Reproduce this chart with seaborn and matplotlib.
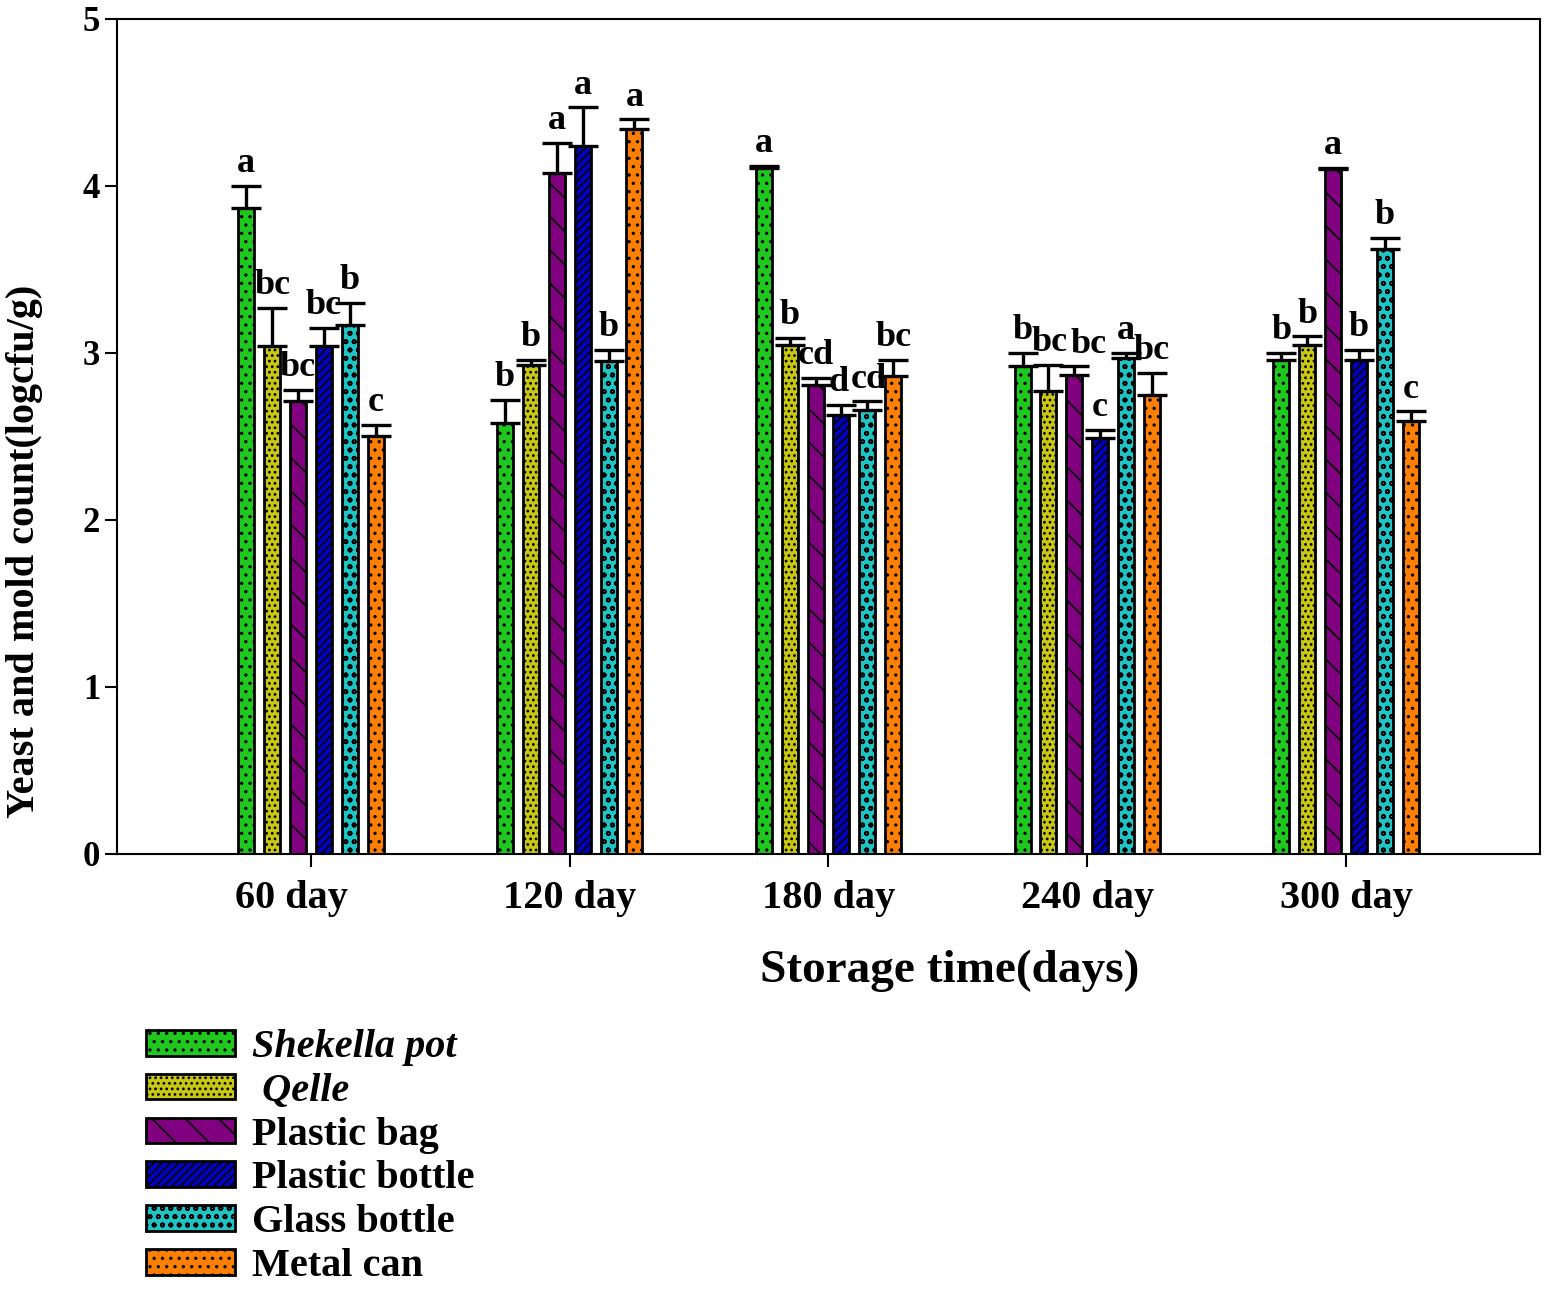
import matplotlib
matplotlib.use("Agg")
import matplotlib.pyplot as plt
import matplotlib.transforms as mtransforms
import seaborn as sns
import pandas as pd
import numpy as np

days = ["60 day", "120 day", "180 day", "240 day", "300 day"]
containers = ["Shekella pot", " Qelle", "Plastic bag", "Plastic bottle", "Glass bottle", "Metal can"]

shekella = [3.87, 2.58, 4.11, 2.92, 2.96]
qelle = [3.04, 2.93, 3.05, 2.77, 3.05]
plastic_bag = [2.71, 4.08, 2.81, 2.87, 4.10]
plastic_bottle = [3.04, 4.24, 2.63, 2.49, 2.96]
glass_bottle = [3.17, 2.95, 2.66, 2.97, 3.62]
metal_can = [2.50, 4.34, 2.86, 2.75, 2.59]

shekella_err = [0.13, 0.14, 0.01, 0.08, 0.04]
qelle_err = [0.23, 0.03, 0.04, 0.16, 0.05]
plastic_bag_err = [0.07, 0.18, 0.04, 0.05, 0.01]
plastic_bottle_err = [0.11, 0.23, 0.06, 0.05, 0.06]
glass_bottle_err = [0.13, 0.07, 0.05, 0.03, 0.07]
metal_can_err = [0.07, 0.06, 0.10, 0.13, 0.06]

shekella_let = ["a", "b", "a", "b", "b"]
qelle_let = ["bc", "b", "b", "bc", "b"]
plastic_bag_let = ["bc", "a", "cd", "bc", "a"]
plastic_bottle_let = ["bc", "a", "d", "c", "b"]
glass_bottle_let = ["b", "b", "cd", "a", "b"]
metal_can_let = ["c", "a", "bc", "bc", "c"]

values = [shekella, qelle, plastic_bag, plastic_bottle, glass_bottle, metal_can]
errors = [shekella_err, qelle_err, plastic_bag_err, plastic_bottle_err, glass_bottle_err, metal_can_err]
letters = [shekella_let, qelle_let, plastic_bag_let, plastic_bottle_let, glass_bottle_let, metal_can_let]

colors = ["#1ec81e", "#c8c814", "#800080", "#0000c0", "#1ec4c4", "#ff8000"]
hatches = ["..", "...", "\\", "////", "oo", ".."]

rows = []
for c, vals in zip(containers, values):
    for d, v in zip(days, vals):
        rows.append({"day": d, "container": c, "value": v})
df = pd.DataFrame(rows)

sns.set_theme(style="ticks")
plt.rcParams["font.family"] = ["Liberation Serif", "DejaVu Serif"]
plt.rcParams["font.weight"] = "bold"
plt.rcParams["hatch.linewidth"] = 1.2
for k in ["text.color", "axes.labelcolor", "xtick.color", "ytick.color", "axes.edgecolor"]:
    plt.rcParams[k] = "black"

fig = plt.figure(figsize=(15.47, 12.91), dpi=100)
ax = fig.add_axes([0.0756, 0.3385, 0.9199, 0.6468])

sns.barplot(data=df, x="day", y="value", hue="container", hue_order=containers,
            order=days, palette=colors, width=0.6, gap=0.38, edgecolor="black",
            linewidth=2, errorbar=None, legend=False, ax=ax, saturation=1)

# small manual nudges (points) for crowded letters: (container, day) -> dx
letter_nudge = {(2, 3): 10, (1, 3): 1, (3, 2): -2, (4, 2): 1}

bar_containers = list(ax.containers)
for ci, cont in enumerate(bar_containers):
    for bi, patch in enumerate(cont.patches):
        patch.set_hatch(hatches[ci])
        xc = patch.get_x() + patch.get_width() / 2
        h = patch.get_height()
        e = errors[ci][bi]
        ax.errorbar(xc, h, yerr=[[0], [e]], fmt="none", ecolor="black",
                    elinewidth=2.4, capsize=11, capthick=2.4, zorder=3)
        ax.annotate(letters[ci][bi], (xc, h + e),
                    xytext=(letter_nudge.get((ci, bi), 0), 4),
                    textcoords="offset points", ha="center", va="bottom",
                    fontsize=26, fontweight="bold", zorder=4)

ax.set_ylim(0, 5)
ax.set_xlim(-0.75, 4.75)
ax.set_yticks([0, 1, 2, 3, 4, 5])
ax.tick_params(axis="y", labelsize=25, length=9, width=1.5, pad=3)
ax.tick_params(axis="x", labelsize=29, length=9, width=1.5, pad=10)
for lab in ax.get_xticklabels() + ax.get_yticklabels():
    lab.set_fontweight("bold")
for s in ax.spines.values():
    s.set_linewidth(1.5)
    s.set_color("black")

# first category label sits a little left of its tick in the reference
first = ax.get_xticklabels()[0]
first.set_transform(first.get_transform() +
                    mtransforms.ScaledTranslation(-20 / 100, 0, fig.dpi_scale_trans))

ax.set_xlabel("Storage time(days)", fontsize=34, fontweight="bold")
ax.set_ylabel("Yeast and mold count(logcfu/g)", fontsize=29, fontweight="bold")
ax.xaxis.set_label_coords(0.585, -0.115)
ax.yaxis.set_label_coords(-0.052, 0.362)

handles = [matplotlib.patches.Patch(facecolor=colors[i], edgecolor="black",
                                    hatch=hatches[i], linewidth=2)
           for i in range(len(containers))]
leg = fig.legend(handles, containers, loc="upper left",
                 bbox_to_anchor=(0.0945, 0.203), frameon=False,
                 prop={"size": 29, "weight": "bold"},
                 handlelength=2.2, handleheight=0.6, labelspacing=0.17,
                 handletextpad=0.42, borderpad=0, borderaxespad=0)
for i, t in enumerate(leg.get_texts()):
    if i < 2:
        t.set_fontstyle("italic")

fig.savefig("out.png", dpi=100)
